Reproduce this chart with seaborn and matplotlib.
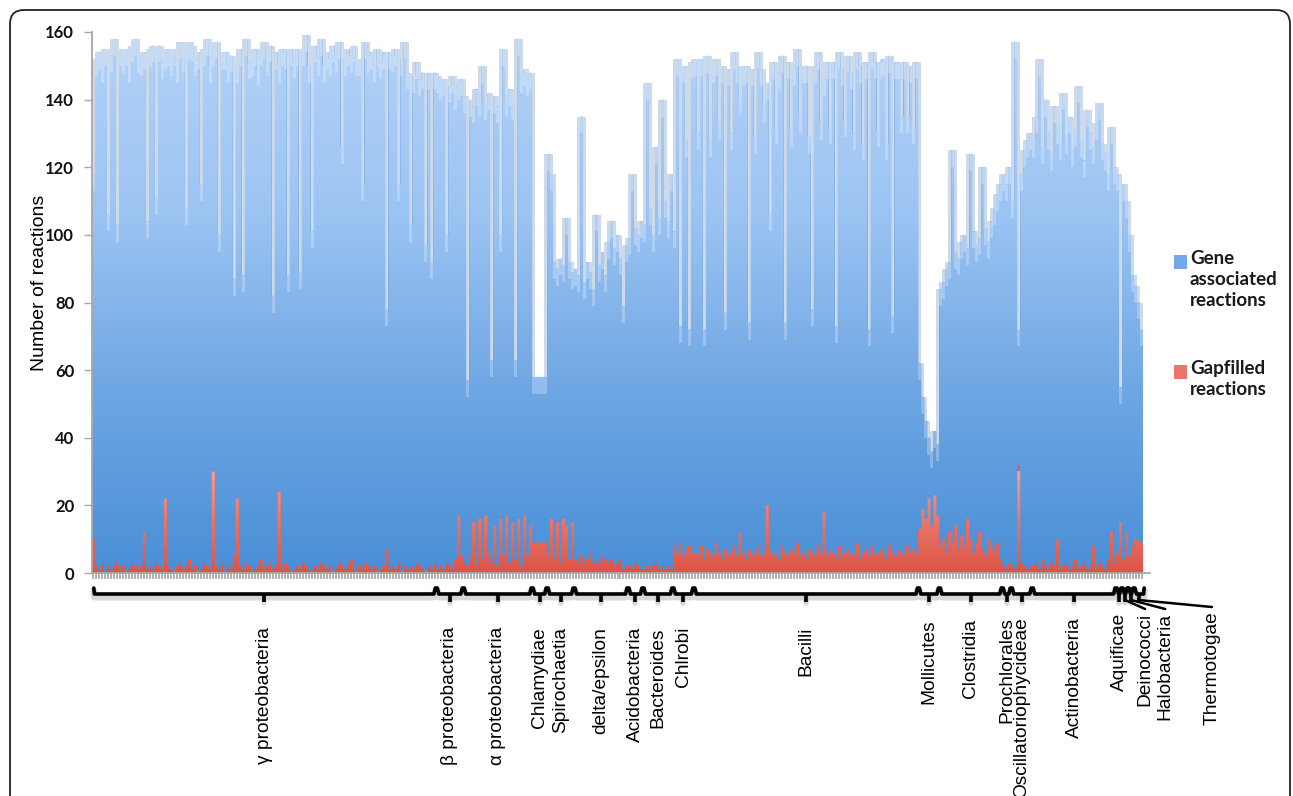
import numpy as np
import pandas as pd
import matplotlib
matplotlib.use("Agg")
import matplotlib.pyplot as plt
import matplotlib.transforms as mtransforms
from matplotlib.path import Path
from matplotlib.patches import PathPatch, FancyBboxPatch, Rectangle
from matplotlib.colors import LinearSegmentedColormap
import seaborn as sns

# ---------------- data (per taxonomic class, one value per genome) ----------------
groups = ["γ proteobacteria", "β proteobacteria", "α proteobacteria", "Chlamydiae",
          "Spirochaetia", "delta/epsilon", "Acidobacteria", "Bacteroides", "Chlrobi",
          "Bacilli", "Mollicutes", "Clostridia", "Prochlorales", "Oscillatoriophycideae",
          "Actinobacteria", "Aquificae", "Deinococci", "Halobacteria", "Thermotogae"]

gene_gamma = [108, 150, 153, 147, 155, 104, 152, 156, 100, 154,
              151, 155, 149, 153, 156, 152, 150, 142, 103, 153,
              155, 108, 154, 150, 132, 153, 151, 155, 148, 154,
              152, 106, 153, 155, 150, 154, 114, 152, 156, 149,
              125, 155, 99, 151, 154, 148, 152, 82, 128, 153,
              87, 155, 149, 152, 154, 147, 151, 156, 150, 153,
              81, 152, 126, 154, 151, 86, 155, 150, 153, 88,
              152, 157, 149, 101, 154, 151, 155, 148, 153, 150,
              156, 152, 154, 124, 151, 153, 149, 155, 152, 150,
              114, 154, 151, 153, 148, 155, 150, 152, 71, 153,
              151, 154, 112, 152, 155, 147, 101, 146, 148, 144,
              147, 97, 146, 91, 145]
gap_gamma = [10, 2, 1, 3, 0, 2, 1, 2, 3, 1,
             2, 0, 1, 3, 2, 1, 2, 12, 1, 2,
             1, 3, 2, 1, 22, 2, 1, 0, 2, 3,
             1, 2, 4, 1, 2, 0, 1, 3, 2, 1,
             30, 2, 1, 3, 0, 2, 1, 5, 22, 2,
             1, 3, 2, 0, 1, 2, 4, 1, 2, 3,
             1, 2, 24, 1, 3, 2, 0, 1, 2, 1,
             3, 2, 1, 0, 2, 1, 3, 2, 1, 2,
             0, 1, 3, 2, 1, 2, 4, 1, 0, 2,
             1, 3, 2, 1, 2, 0, 1, 2, 7, 1,
             2, 1, 3, 0, 2, 1, 2, 1, 3, 2,
             1, 0, 2, 1, 3]
gene_beta = [146, 143, 145, 97, 142, 146, 138, 128, 141]
gap_beta = [1, 2, 1, 3, 2, 1, 4, 17, 5]
gene_alpha = [138, 55, 135, 123, 141, 124, 146, 122, 136, 60, 127, 136,
              84, 150, 123, 140, 124, 59, 142, 145, 132, 141, 134]
gap_alpha = [3, 2, 5, 15, 2, 16, 4, 17, 6, 3, 14, 2,
             16, 5, 17, 3, 15, 4, 16, 2, 17, 5, 14]
gene_chlamydiae = [49, 49, 49, 49, 49]
gap_chlamydiae = [9, 9, 9, 9, 9]
gene_spiro = [119, 102, 88, 75, 90, 75, 91, 88, 74]
gap_spiro = [5, 16, 4, 15, 3, 16, 14, 4, 15]
gene_delta = [86, 85, 130, 83, 88, 83, 81, 102, 88, 90, 84, 95, 100, 94, 97, 89, 78, 95]
gap_delta = [4, 3, 5, 3, 4, 6, 3, 4, 3, 5, 4, 3, 4, 2, 3, 4, 1, 2]
gene_acido = [97, 117, 99, 98, 103]
gap_acido = [2, 1, 3, 2, 1]
gene_bacteroides = [102, 143, 107, 98, 123, 104, 138, 109, 102, 117]
gap_bacteroides = [1, 2, 1, 2, 3, 1, 2, 1, 2, 1]
gene_chlorobi = [93, 146, 64, 145, 121, 64, 145]
gap_chlorobi = [8, 6, 9, 5, 7, 8, 6]
gene_bacilli = [146, 125, 144, 68, 146, 122, 145, 143, 127, 146,
                70, 144, 124, 146, 145, 129, 143, 146, 67, 144,
                123, 146, 144, 132, 125, 99, 146, 126, 144, 145,
                68, 146, 124, 143, 146, 130, 144, 146, 122, 72,
                145, 146, 127, 128, 146, 125, 145, 69, 146, 144,
                128, 146, 143, 124, 145, 146, 121, 144, 67, 146,
                145, 126, 144, 146, 123, 145, 70, 146, 144, 129,
                146, 127, 144, 125, 146]
gap_bacilli = [6, 5, 8, 4, 7, 6, 5, 9, 6, 4,
               7, 5, 6, 8, 5, 12, 6, 4, 7, 5,
               6, 8, 5, 6, 20, 7, 5, 6, 4, 8,
               6, 5, 7, 6, 9, 5, 6, 4, 7, 6,
               5, 8, 6, 18, 5, 7, 6, 4, 8, 5,
               6, 7, 5, 6, 9, 4, 6, 7, 5, 8,
               6, 5, 7, 6, 4, 8, 6, 5, 7, 6,
               5, 8, 6, 7, 5]
gene_mollicutes = [49, 33, 29, 18, 22, 19, 21]
gap_mollicutes = [13, 19, 16, 22, 14, 23, 17]
gene_clostridia = [76, 76, 84, 80, 116, 81, 86, 87, 92, 80, 114,
                   95, 88, 87, 113, 97, 88, 96, 102, 103, 111]
gap_clostridia = [8, 10, 6, 12, 9, 14, 7, 11, 8, 16, 10,
                  6, 9, 12, 7, 5, 10, 8, 6, 9, 4]
gene_prochlorales = [116, 114, 117]
gap_prochlorales = [2, 1, 3]
gene_oscill = [108, 156, 40, 115, 123, 127, 128]
gap_oscill = [2, 1, 32, 3, 2, 1, 2]
gene_actino = [126, 132, 151, 122, 138, 129, 121, 136, 122, 126, 140, 126, 134, 123,
               127, 143, 126, 119, 136, 128, 118, 132, 136, 125, 123, 114, 120, 117]
gap_actino = [2, 3, 1, 4, 2, 1, 3, 2, 10, 1, 2, 3, 1, 2,
              4, 1, 2, 3, 1, 2, 8, 1, 3, 2, 1, 4, 12, 3]
gene_aquificae = [112, 40]
gap_aquificae = [6, 15]
gene_deinococci = [111, 98]
gap_deinococci = [4, 12]
gene_halo = [95, 80]
gap_halo = [5, 8]
gene_thermo = [75, 70, 63]
gap_thermo = [10, 10, 9]

y_ticks = [0, 20, 40, 60, 80, 100, 120, 140, 160]
legend_labels = ["Gene\nassociated\nreactions", "Gapfilled\nreactions"]

gene_lists = [gene_gamma, gene_beta, gene_alpha, gene_chlamydiae, gene_spiro, gene_delta,
              gene_acido, gene_bacteroides, gene_chlorobi, gene_bacilli, gene_mollicutes,
              gene_clostridia, gene_prochlorales, gene_oscill, gene_actino, gene_aquificae,
              gene_deinococci, gene_halo, gene_thermo]
gap_lists = [gap_gamma, gap_beta, gap_alpha, gap_chlamydiae, gap_spiro, gap_delta,
             gap_acido, gap_bacteroides, gap_chlorobi, gap_bacilli, gap_mollicutes,
             gap_clostridia, gap_prochlorales, gap_oscill, gap_actino, gap_aquificae,
             gap_deinococci, gap_halo, gap_thermo]

rows = []
for g, ge, ga in zip(groups, gene_lists, gap_lists):
    for a, b in zip(ge, ga):
        rows.append((g, a, b))
df = pd.DataFrame(rows, columns=["group", "gene", "gap"])
df["genome"] = [f"g{i:03d}" for i in range(len(df))]
df["total"] = df["gene"] + df["gap"]
N = len(df)
# soft neighbour envelope (rendering effect for the blurred tops of the dense bars)
tot = df["total"].to_numpy()
env = tot.copy()
env[1:] = np.maximum(env[1:], tot[:-1])
env[:-1] = np.maximum(env[:-1], tot[1:])
df["envelope"] = env

starts, ends = [], []
pos = 0
for ge in gene_lists:
    starts.append(pos)
    pos += len(ge)
    ends.append(pos)

# ---------------- layout ----------------
sns.set_theme(style="white")
plt.rcParams["font.family"] = ["Liberation Sans", "DejaVu Sans"]

W, H = 1293, 796
fig = plt.figure(figsize=(W / 100, H / 100), dpi=100)
AX_L, AX_R, AX_B, AX_T = 92, 1150, 573, 32
BAR_END = 1143
ax = fig.add_axes([AX_L / W, 1 - AX_B / H, (AX_R - AX_L) / W, (AX_B - AX_T) / H])
ax.set_facecolor("white")

order = list(df["genome"])
sns.barplot(data=df, x="genome", y="total", order=order, color="#6aa3e2", saturation=1,
            width=1.0, linewidth=0, errorbar=None, ax=ax, zorder=2)
nb = len(ax.patches)
sns.barplot(data=df, x="genome", y="gap", order=order, color="#e2625a", saturation=1,
            width=1.0, linewidth=0, errorbar=None, ax=ax, zorder=3)
sns.barplot(data=df, x="genome", y="envelope", order=order, color="#cfdae8", saturation=1,
            width=1.0, linewidth=0, errorbar=None, ax=ax, zorder=1.5)
blue_patches = ax.patches[:nb]
red_patches = ax.patches[nb:2 * nb]

bar_px = (BAR_END - AX_L) / N
xmax = -0.5 + (AX_R - AX_L) / bar_px
ax.set_xlim(-0.5, xmax)
ax.set_ylim(0, 160)


def gradient_fill(patches, colors, y0, y1, z):
    paths = [p.get_path().transformed(p.get_patch_transform()) for p in patches]
    comp = Path.make_compound_path(*paths)
    clip = PathPatch(comp, transform=ax.transData, facecolor="none", edgecolor="none")
    ax.add_patch(clip)
    cmap = LinearSegmentedColormap.from_list("g", colors)
    grad = np.linspace(0, 1, 256).reshape(-1, 1)
    im = ax.imshow(grad, extent=[-0.5, xmax, y0, y1], origin="lower", aspect="auto",
                   cmap=cmap, zorder=z, interpolation="bilinear")
    im.set_clip_path(clip)


gradient_fill(blue_patches, ["#4a8fd7", "#6ea6e3", "#9cc4f3", "#b4d2f7"], 0, 160, 2.5)
gradient_fill(red_patches, ["#dc5446", "#e8766a", "#f3a096"], 0, 30, 3.5)
# light caps on the bar tops (faded edge of the dense columns)
cap = 5
ax.bar(np.arange(N), cap, bottom=tot - cap, width=1.0, color="white", alpha=0.25,
       linewidth=0, zorder=2.8)
ax.set_xlim(-0.5, xmax)
ax.set_ylim(0, 160)

# axes styling
for s in ["top", "right"]:
    ax.spines[s].set_visible(False)
for s in ["left", "bottom"]:
    ax.spines[s].set_color("#a8a8a8")
    ax.spines[s].set_linewidth(1.3)
    ax.spines[s].set_zorder(5)
ax.set_xticks(range(N))
ax.set_xticklabels([])
ax.set_xlabel("")
ax.tick_params(axis="x", bottom=True, length=4.5, width=1.1, color="#9c9c9c", direction="out")
ax.set_yticks(y_ticks)
ax.set_yticklabels([str(v) for v in y_ticks])
ax.tick_params(axis="y", left=True, length=5.8, width=1.0, color="#a8a8a8", pad=7)
for lab in ax.get_yticklabels():
    lab.set_fontfamily("Lato")
    lab.set_fontweight("bold")
    lab.set_fontsize(12)
    lab.set_color("#111111")
ax.set_ylabel("Number of reactions", fontsize=14, color="black")
ax.yaxis.set_label_coords((48 - AX_L) / (AX_R - AX_L), (AX_B - 283) / (AX_B - AX_T))
ax.grid(False)

# ---------------- brackets & class labels ----------------
trans = mtransforms.blended_transform_factory(ax.transData, fig.transFigure)


def fy(px):
    return 1 - px / H


YB = 594
bx, by = [], []
first = starts[0] + 0.3
bx += [first - 0.2, first]
by += [YB - 6, YB]
for k in range(1, len(groups)):
    b = starts[k] - 0.5
    bx += [b - 0.8, b - 0.35, b + 0.35, b + 0.8]
    by += [YB, YB - 6, YB - 6, YB]
last = ends[-1] - 0.3
bx += [last, last + 0.2]
by += [YB, YB - 6]
ax.plot(bx, [fy(v + 3) for v in by], transform=trans, clip_on=False, color="#bdbdbd",
        lw=5, alpha=0.6, solid_joinstyle="round", solid_capstyle="round", zorder=1)
ax.plot(bx, [fy(v) for v in by], transform=trans, clip_on=False, color="black",
        lw=2.6, solid_joinstyle="round", solid_capstyle="round", zorder=6)

label_top = [627] * 10 + [619, 619, 617, 617, 617, 613, 613, 613, 611]
label_dx = [0.0] * 16 + [6.7, 11.4, 24.5]
for k, g in enumerate(groups):
    c = (starts[k] + ends[k] - 1) / 2
    ax.plot([c, c], [fy(YB + 3), fy(YB + 9)], transform=trans, clip_on=False,
            color="#bdbdbd", lw=4, alpha=0.6, zorder=1)
    ax.plot([c, c], [fy(YB), fy(YB + 8)], transform=trans, clip_on=False,
            color="black", lw=2.6, solid_capstyle="butt", zorder=6)
    tx = c + label_dx[k]
    if label_dx[k] > 0:
        ax.plot([c, tx], [fy(YB + 6), fy(label_top[k] - 4)], transform=trans,
                clip_on=False, color="black", lw=1.8, zorder=6)
    ax.text(tx, fy(label_top[k]), g, transform=trans, rotation=90, ha="center",
            va="top", fontsize=13.8, color="black", clip_on=False)

# ---------------- legend ----------------
leg_colors = ["#72a9e8", "#e8766c"]
leg_y = [262, 372]
for lbl, col, yy in zip(legend_labels, leg_colors, leg_y):
    fig.add_artist(Rectangle((1174 / W, fy(yy + 6.5)), 13 / W, 13 / H,
                             transform=fig.transFigure, facecolor=col, edgecolor="none"))
    fig.text(1190 / W, fy(yy - 12), lbl, ha="left", va="top", fontsize=13.5,
             fontfamily="Lato", fontweight="bold", color="#1a1a1a", linespacing=1.3)

# ---------------- outer rounded frame ----------------
frame = FancyBboxPatch((10, -30), 1280, H - 10 + 30,
                       boxstyle="round,pad=0,rounding_size=14",
                       transform=mtransforms.IdentityTransform(),
                       facecolor="none", edgecolor="#222222", linewidth=1.3)
fig.add_artist(frame)

fig.savefig("out.png", dpi=100)
